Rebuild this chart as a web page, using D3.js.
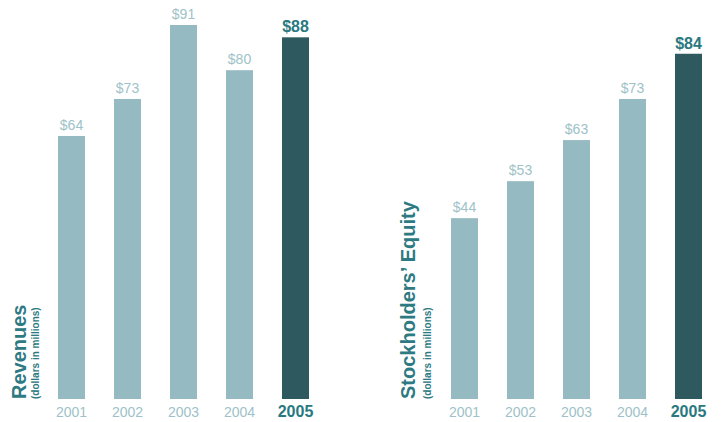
<!DOCTYPE html>
<html>
<head>
<meta charset="utf-8">
<script src="https://cdn.jsdelivr.net/npm/d3@7"></script>
<style>
  html, body { margin: 0; padding: 0; background: #fff; }
  svg { display: block; font-family: "Liberation Sans", Arial, Helvetica, sans-serif; }
</style>
</head>
<body>
<svg id="chart" width="722" height="422"></svg>
<script>
// Five-year financial highlights (dollars in millions)
const years = ["2001", "2002", "2003", "2004", "2005"];
const revenues = [64, 73, 91, 80, 88];
const equity = [44, 53, 63, 73, 84];
const currentYear = "2005";

const panels = [
  { title: "Revenues", subtitle: "(dollars in millions)", values: revenues, x0: 58, titleX: 26, subX: 39 },
  { title: "Stockholders\u2019 Equity", subtitle: "(dollars in millions)", values: equity, x0: 451, titleX: 415, subX: 431 }
];

const colors = {
  bar: "#95bac1",
  barCurrent: "#2e5a5f",
  label: "#9ec2c8",
  labelCurrent: "#2a7880",
  title: "#2e7a83"
};

const svg = d3.select("#chart");
const baseY = 399;
const y = d3.scaleLinear().domain([0, 100]).range([baseY, baseY - 411]);

panels.forEach(p => {
  const x = d3.scaleBand()
    .domain(years)
    .range([p.x0, p.x0 + 251])
    .paddingInner(29 / 56)
    .paddingOuter(0);

  const g = svg.append("g");
  const rows = years.map((yr, i) => ({ year: yr, value: p.values[i], current: yr === currentYear }));

  g.selectAll("rect")
    .data(rows)
    .join("rect")
    .attr("x", d => x(d.year))
    .attr("y", d => y(d.value))
    .attr("width", x.bandwidth())
    .attr("height", d => y(0) - y(d.value))
    .attr("fill", d => d.current ? colors.barCurrent : colors.bar);

  g.selectAll("text.value")
    .data(rows)
    .join("text")
    .attr("class", "value")
    .attr("x", d => x(d.year) + x.bandwidth() / 2)
    .attr("y", d => y(d.value) - (d.current ? 5 : 6))
    .attr("text-anchor", "middle")
    .attr("font-size", d => d.current ? 16 : 14)
    .attr("font-weight", d => d.current ? "bold" : "normal")
    .attr("fill", d => d.current ? colors.labelCurrent : colors.label)
    .text(d => "$" + d.value);

  // category axis drawn with d3.axisBottom, domain line and ticks hidden
  const axis = g.append("g")
    .attr("transform", `translate(0,${baseY})`)
    .call(d3.axisBottom(x).tickSize(0));
  axis.attr("font-family", null).attr("font-size", null);
  axis.select(".domain").remove();
  axis.selectAll(".tick text")
    .attr("dy", null)
    .attr("y", 18)
    .attr("font-size", d => d === currentYear ? 16 : 14)
    .attr("font-weight", d => d === currentYear ? "bold" : "normal")
    .attr("fill", d => d === currentYear ? colors.labelCurrent : colors.label);

  g.append("text")
    .attr("transform", `translate(${p.titleX},${baseY}) rotate(-90)`)
    .attr("font-size", 20)
    .attr("font-weight", "bold")
    .attr("fill", colors.title)
    .text(p.title);

  g.append("text")
    .attr("transform", `translate(${p.subX},${baseY}) rotate(-90)`)
    .attr("font-size", 10)
    .attr("font-weight", "bold")
    .attr("fill", colors.title)
    .text(p.subtitle);
});
</script>
</body>
</html>
